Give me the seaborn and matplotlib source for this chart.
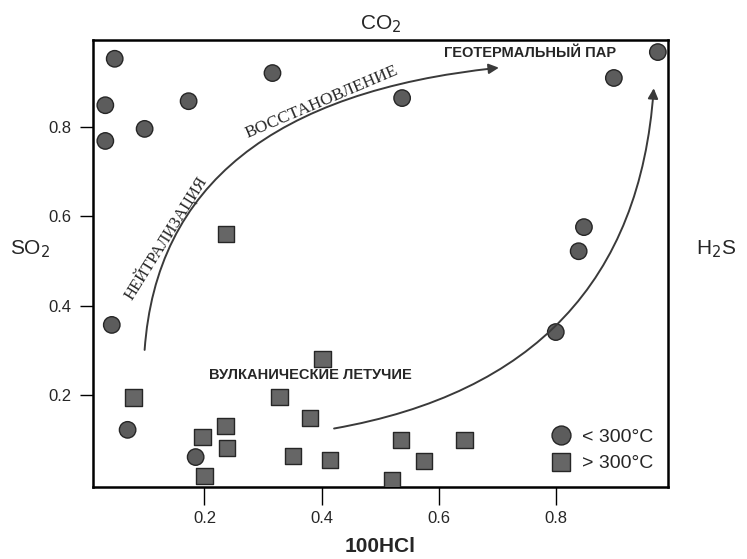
import numpy as np
import pandas as pd
import matplotlib
matplotlib.use("Agg")
import matplotlib.pyplot as plt
import seaborn as sns

# points (x = 100HCl, y = SO2 fraction)
low_x = [0.047, 0.316, 0.031, 0.173, 0.098, 0.031, 0.973, 0.898, 0.537,
         0.847, 0.838, 0.042, 0.069, 0.185, 0.799]
low_y = [0.953, 0.921, 0.849, 0.858, 0.796, 0.769, 0.968, 0.910, 0.865,
         0.576, 0.522, 0.357, 0.122, 0.061, 0.341]

high_x = [0.237, 0.401, 0.079, 0.328, 0.380, 0.236, 0.197, 0.238, 0.351,
          0.414, 0.200, 0.535, 0.643, 0.574, 0.520]
high_y = [0.561, 0.281, 0.194, 0.196, 0.149, 0.131, 0.106, 0.081, 0.063,
          0.054, 0.019, 0.099, 0.099, 0.052, 0.010]

groups = ["< 300°C", "> 300°C"]
ticks = [0.2, 0.4, 0.6, 0.8]

df = pd.DataFrame({
    "x": low_x + high_x,
    "y": low_y + high_y,
    "group": [groups[0]] * len(low_x) + [groups[1]] * len(high_x),
})

sns.set_style("ticks")
plt.rcParams["font.family"] = ["Liberation Sans", "DejaVu Sans"]

fig = plt.figure(figsize=(7.47, 5.59), dpi=100)
ax = fig.add_axes([0.1245, 0.1288, 0.7695, 0.7996])

sns.scatterplot(data=df, x="x", y="y", style="group", markers={groups[0]: "o", groups[1]: "s"},
                hue="group", palette={groups[0]: "#5c5c5c", groups[1]: "#666666"},
                s=140, edgecolor="#262626", linewidth=1.0, ax=ax, zorder=3)

ax.set_xlim(0.01, 0.99)
ax.set_ylim(-0.006, 0.995)
ax.set_xticks(ticks)
ax.set_yticks(ticks)
ax.set_xticklabels([f"{t:.1f}" for t in ticks])
ax.set_yticklabels([f"{t:.1f}" for t in ticks])
ax.tick_params(axis="x", length=13, width=1, labelsize=12, pad=4, color="black")
ax.tick_params(axis="y", length=9.5, width=1, labelsize=12, pad=6, color="black")
for sp in ax.spines.values():
    sp.set_linewidth(1.8)
    sp.set_color("black")

ax.set_xlabel("100HCl", fontsize=15, fontweight="bold", labelpad=8)
ax.set_ylabel("")
ax.set_title("CO$_2$", fontsize=15, pad=8)

fig.text(0.04, 0.555, "SO$_2$", fontsize=15, ha="center", va="center")
fig.text(0.958, 0.555, "H$_2$S", fontsize=15, ha="center", va="center")

# trend arrows
arrow_kw = dict(arrowstyle="-|>", color="#3a3a3a", lw=1.4, mutation_scale=15,
                shrinkA=0, shrinkB=0)
ax.annotate("", xy=(0.702, 0.933), xytext=(0.098, 0.301),
            arrowprops=dict(connectionstyle="angle3,angleA=86,angleB=6", **arrow_kw))
ax.annotate("", xy=(0.966, 0.887), xytext=(0.421, 0.125),
            arrowprops=dict(connectionstyle="angle3,angleA=10,angleB=86", **arrow_kw))

serif = ["Liberation Serif", "DejaVu Serif"]
ax.text(0.133, 0.553, "НЕЙТРАЛИЗАЦИЯ", family=serif, fontsize=12, rotation=58,
        ha="center", va="center")
ax.text(0.400, 0.855, "ВОССТАНОВЛЕНИЕ", family=serif, fontsize=12.5, rotation=23,
        ha="center", va="center")
ax.text(0.755, 0.965, "ГЕОТЕРМАЛЬНЫЙ ПАР", fontsize=10.5, fontweight="bold",
        ha="center", va="center")
ax.text(0.380, 0.245, "ВУЛКАНИЧЕСКИЕ ЛЕТУЧИЕ", fontsize=10.5, fontweight="bold",
        ha="center", va="center")

leg = ax.legend(loc="lower right", frameon=False, fontsize=14, handletextpad=0.1,
                borderaxespad=0.35, labelspacing=0.45, markerscale=1.15)

fig.savefig("out.png", dpi=100)
